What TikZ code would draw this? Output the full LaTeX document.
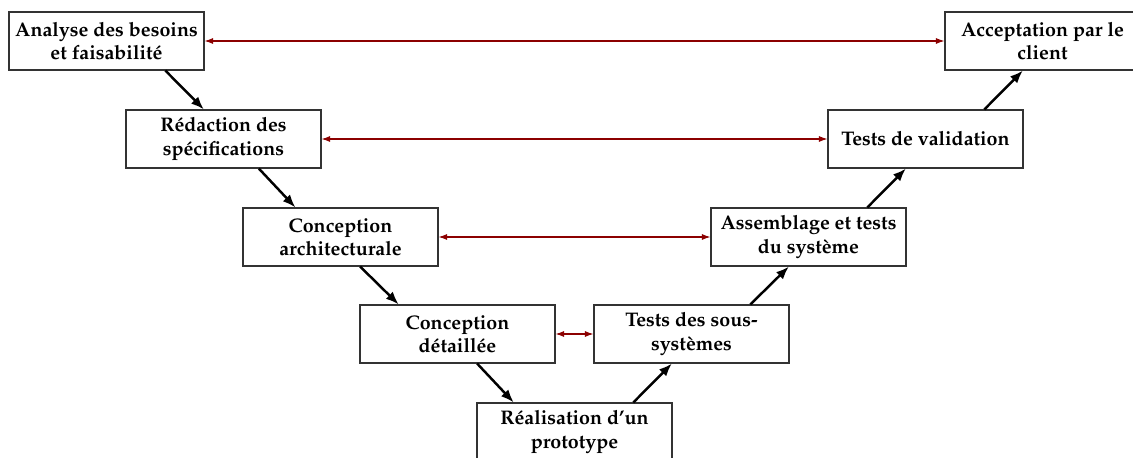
\documentclass[tikz,border=0pt]{standalone}
\usepackage[T1]{fontenc}
\usepackage{mathpazo}
\usepackage{xcolor}
\usetikzlibrary{shapes, arrows.meta, positioning, calc}
\definecolor{darkred}{RGB}{140,0,0}

\begin{document}
\begin{tikzpicture}[font=\fontsize{11.2pt}{13.2pt}\selectfont\bfseries]
    \tikzstyle{phase}=[rectangle, draw=black!80, minimum width=3.9cm, minimum height=1.16cm, align=center, inner sep=2pt, line width=0.6pt]
    \tikzstyle{flow}=[-{Latex[length=2.6mm,width=2mm]}, line width=1.4pt]
    \tikzstyle{link}=[{Latex[length=1.7mm,width=1.2mm]}-{Latex[length=1.7mm,width=1.2mm]}, draw=darkred, line width=0.6pt]
    \useasboundingbox (0,0) rectangle (22.66,-9.16);

    % descending branch
    \node[phase] (besoins) at (2.13,-0.82) {Analyse des besoins\\et faisabilité};
    \node[phase] (specs) at (4.47,-2.78) {Rédaction des\\spécifications};
    \node[phase] (archi) at (6.81,-4.74) {Conception\\architecturale};
    \node[phase] (detail) at (9.15,-6.68) {Conception\\détaillée};
    \node[phase] (proto) at (11.49,-8.64) {Réalisation d'un\\prototype};
    % ascending branch
    \node[phase] (soussys) at (13.83,-6.68) {Tests des sous-\\systèmes};
    \node[phase] (assemb) at (16.17,-4.74) {Assemblage et tests\\du système};
    \node[phase] (valid) at (18.51,-2.78) {Tests de validation};
    \node[phase] (accept) at (20.85,-0.82) {Acceptation par le\\client};

    \draw[flow] ($(besoins.south west)!0.8!(besoins.south east)$) -- ($(specs.north west)!0.4!(specs.north east)$);
    \draw[flow] ($(specs.south west)!0.68!(specs.south east)$) -- ($(archi.north west)!0.27!(archi.north east)$);
    \draw[flow] ($(archi.south west)!0.6!(archi.south east)$) -- ($(detail.north west)!0.2!(detail.north east)$);
    \draw[flow] ($(detail.south west)!0.6!(detail.south east)$) -- ($(proto.north west)!0.19!(proto.north east)$);
    \draw[flow] ($(proto.north west)!0.8!(proto.north east)$) -- ($(soussys.south west)!0.4!(soussys.south east)$);
    \draw[flow] ($(soussys.north west)!0.8!(soussys.north east)$) -- ($(assemb.south west)!0.4!(assemb.south east)$);
    \draw[flow] ($(assemb.north west)!0.8!(assemb.north east)$) -- ($(valid.south west)!0.4!(valid.south east)$);
    \draw[flow] ($(valid.north west)!0.8!(valid.north east)$) -- ($(accept.south west)!0.4!(accept.south east)$);

    \draw[link] (besoins.east) -- (accept.west);
    \draw[link] (specs.east) -- (valid.west);
    \draw[link] (archi.east) -- (assemb.west);
    \draw[link] (detail.east) -- (soussys.west);
\end{tikzpicture}
\end{document}
